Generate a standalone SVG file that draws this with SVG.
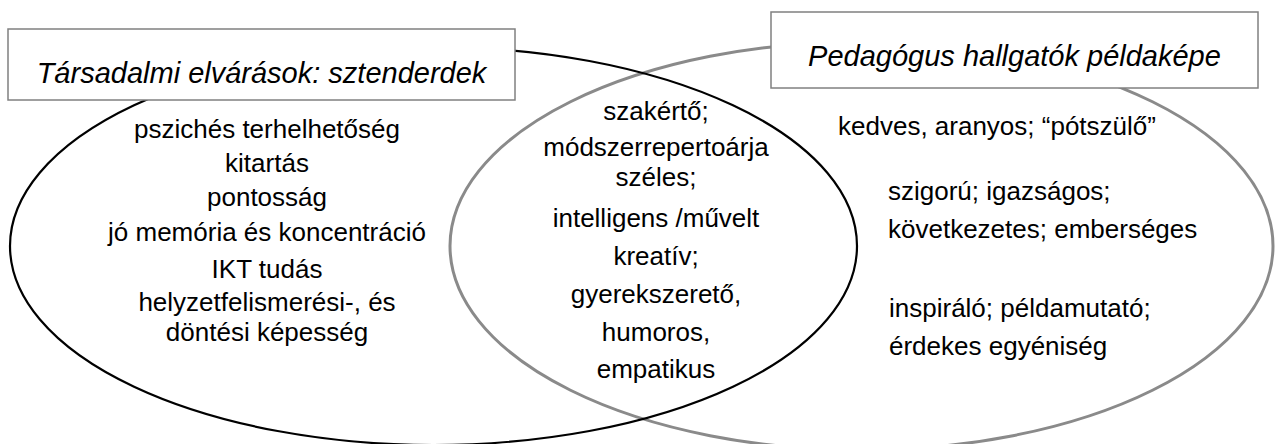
<svg xmlns="http://www.w3.org/2000/svg" width="1275" height="444" viewBox="0 0 1275 444">
<style>
.t{font-family:"Liberation Sans",Arial,sans-serif;font-size:26px;fill:#000}
.c{text-anchor:middle}
.h{font-family:"Liberation Sans",Arial,sans-serif;font-size:29px;font-style:italic;fill:#000;text-anchor:middle}
.box{fill:#fff;stroke:#808080;stroke-width:1.5}
</style>
<rect width="1275" height="444" fill="#fff"/>
<g id="connectors">
<ellipse id="right-ellipse" cx="861.5" cy="246" rx="411.5" ry="204" fill="none" stroke="#8a8a8a" stroke-width="3"/>
<ellipse id="left-ellipse" cx="433.5" cy="246" rx="423.5" ry="199" fill="none" stroke="#000" stroke-width="2.2"/>
</g>
<g id="label-left">
<rect class="box" x="8" y="29" width="507" height="71"/>
<text class="h" x="261.5" y="83">Társadalmi elvárások: sztenderdek</text>
</g>
<g id="label-right">
<rect class="box" x="771" y="12" width="487" height="76"/>
<text class="h" x="1014.5" y="66">Pedagógus hallgatók példaképe</text>
</g>
<g id="left-list">
<text class="t c" x="267" y="138">pszichés terhelhetőség</text>
<text class="t c" x="267" y="172">kitartás</text>
<text class="t c" x="267" y="206">pontosság</text>
<text class="t c" x="267" y="241">jó memória és koncentráció</text>
<text class="t c" x="267" y="278">IKT tudás</text>
<text class="t c" x="267" y="311">helyzetfelismerési-, és</text>
<text class="t c" x="267" y="341">döntési képesség</text>
</g>
<g id="middle-list">
<text class="t c" x="656" y="120">szakértő;</text>
<text class="t c" x="656" y="156">módszerrepertoárja</text>
<text class="t c" x="656" y="186">széles;</text>
<text class="t c" x="656" y="227">intelligens /művelt</text>
<text class="t c" x="656" y="265">kreatív;</text>
<text class="t c" x="656" y="303">gyerekszerető,</text>
<text class="t c" x="656" y="341">humoros,</text>
<text class="t c" x="656" y="378">empatikus</text>
</g>
<g id="right-list">
<text class="t" x="838" y="135">kedves, aranyos; “pótszülő”</text>
<text class="t" x="888" y="200">szigorú; igazságos;</text>
<text class="t" x="888" y="238">következetes; emberséges</text>
<text class="t" x="889" y="317">inspiráló; példamutató;</text>
<text class="t" x="889" y="355">érdekes egyéniség</text>
</g>
</svg>
